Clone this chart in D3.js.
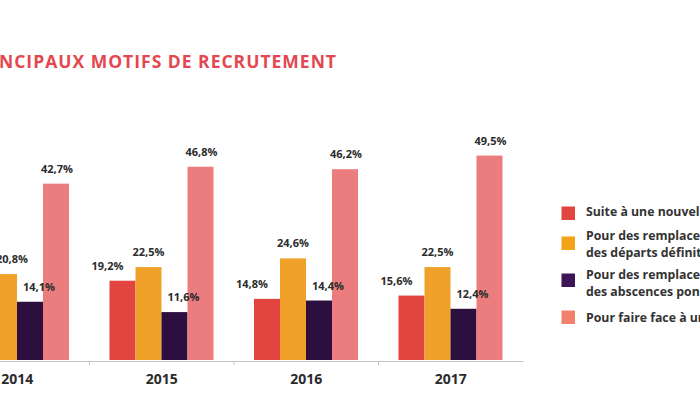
<!DOCTYPE html>
<html>
<head>
<meta charset="utf-8">
<script src="https://cdn.jsdelivr.net/npm/d3@7"></script>
<style>
  html, body { margin: 0; padding: 0; background: #fff; overflow: hidden; }
  svg { display: block; font-family: "Open Sans", "Noto Sans", sans-serif; }
</style>
</head>
<body>
<svg id="chart" width="700" height="394"></svg>
<script>
const title = "LES PRINCIPAUX MOTIFS DE RECRUTEMENT";
const years = ["2014", "2015", "2016", "2017"];
const seriesNames = [
  ["Suite à une nouvelle activité"],
  ["Pour des remplacements liés à", "des départs définitifs"],
  ["Pour des remplacements liés à", "des abscences ponctuelles"],
  ["Pour faire face à un surcroît d'activité"]
];
const nouvelleActivite = [22.4, 19.2, 14.8, 15.6];
const departsDefinitifs = [20.8, 22.5, 24.6, 22.5];
const absencesPonctuelles = [14.1, 11.6, 14.4, 12.4];
const surcroitActivite = [42.7, 46.8, 46.2, 49.5];
const seriesValues = [nouvelleActivite, departsDefinitifs, absencesPonctuelles, surcroitActivite];
const colors = ["#e2453f", "#f0a12a", "#2d0f3f", "#ec7d7f"];
const legendColors = ["#e2453f", "#f2a317", "#3d1456", "#f2806c"];
const labelShift = [-15, 0, 9, 1];
const firstGroupShift = [-15, 8, 9, 1];

const svg = d3.select("#chart");

// Title (cropped at the left like the reference)
svg.append("text")
  .attr("x", 337).attr("y", 68)
  .attr("text-anchor", "end")
  .attr("fill", "#e3474f")
  .attr("font-size", 17.5)
  .attr("font-weight", 700)
  .attr("letter-spacing", 1)
  .text(title);

const x0 = d3.scaleBand().domain(years).range([-55, 523]).padding(0);
const x1 = d3.scaleBand().domain(d3.range(4)).range([20, 124]).padding(0);
const y = d3.scaleLinear().domain([0, 50]).range([360, 153.5]);

const groups = svg.append("g").selectAll("g")
  .data(years)
  .join("g")
  .attr("transform", d => `translate(${x0(d)},0)`);

groups.selectAll("rect")
  .data((yr, i) => seriesValues.map((vals, s) => ({ s, i, v: vals[i] })))
  .join("rect")
  .attr("x", d => x1(d.s))
  .attr("y", d => y(d.v))
  .attr("width", x1.bandwidth())
  .attr("height", d => y(0) - y(d.v))
  .attr("fill", d => colors[d.s]);

groups.selectAll("text.val")
  .data((yr, i) => seriesValues.map((vals, s) => ({ s, i, v: vals[i] })))
  .join("text")
  .attr("class", "val")
  .attr("x", d => x1(d.s) + x1.bandwidth() / 2 + (d.i === 0 ? firstGroupShift[d.s] : labelShift[d.s]))
  .attr("y", d => y(d.v) - 11)
  .attr("text-anchor", "middle")
  .attr("font-size", 11)
  .attr("font-weight", 700)
  .attr("fill", "#2b2b2b")
  .text(d => d.v.toFixed(1).replace(".", ",") + "%");

// Axis
const axis = svg.append("g")
  .attr("transform", "translate(0,361)")
  .call(d3.axisBottom(x0).tickSize(0).tickPadding(13));
axis.select(".domain").attr("stroke", "#c4c4c4").attr("stroke-width", 1.2);
axis.selectAll("text")
  .attr("font-size", 14)
  .attr("font-weight", 700)
  .attr("fill", "#2b2b2b")
  .attr("font-family", "'Open Sans', sans-serif");

// boundary ticks
svg.append("g").selectAll("line")
  .data(years.slice(1))
  .join("line")
  .attr("x1", d => x0(d)).attr("x2", d => x0(d))
  .attr("y1", 361).attr("y2", 365)
  .attr("stroke", "#c4c4c4");

// Legend
const squareY = [213, 243, 280, 317];
const textY = [211.5, 236, 275, 317.5];
const legend = svg.append("g");
seriesNames.forEach((lines, i) => {
  legend.append("rect")
    .attr("x", 561.5).attr("y", squareY[i] - 6.5)
    .attr("width", 13.5).attr("height", 13.5)
    .attr("fill", legendColors[i]);
  const t = legend.append("text")
    .attr("x", 586)
    .attr("font-size", 12.3)
    .attr("font-weight", 700)
    .attr("fill", "#333");
  lines.forEach((ln, k) => {
    t.append("tspan").attr("x", 586).attr("y", textY[i] + 4.3 + k * 16.5).text(ln);
  });
});
</script>
</body>
</html>
